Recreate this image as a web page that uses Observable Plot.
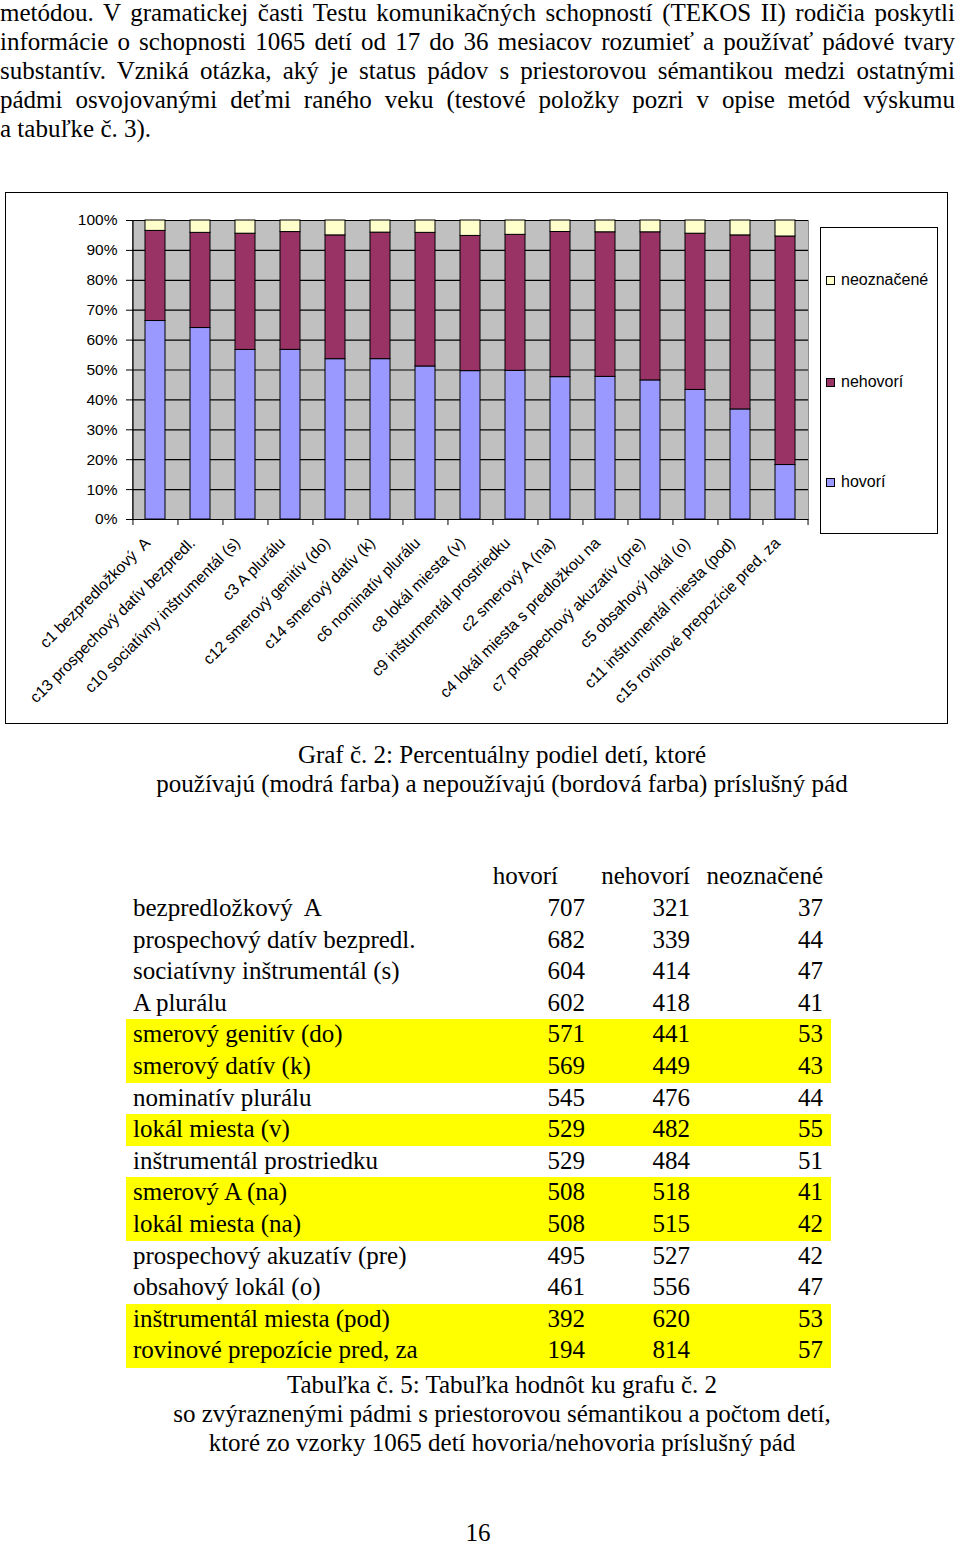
<!DOCTYPE html>
<html><head><meta charset="utf-8">
<script src="https://cdn.jsdelivr.net/npm/d3@7"></script>
<script src="https://cdn.jsdelivr.net/npm/@observablehq/plot@0.6"></script>
<style>
html,body{margin:0;padding:0;background:#fff}
body{width:960px;height:1543px;position:relative;overflow:hidden;font-family:"Liberation Serif","Times New Roman",serif;color:#000}
.abs{position:absolute}
.para{position:absolute;left:0;top:-2px;width:955px;font-size:25px;line-height:29px}
.para .ln{display:block;white-space:nowrap}
.para .ln span{display:inline-block;white-space:nowrap}
.cap{position:absolute;left:0;width:1004px;text-align:center;font-size:25px;line-height:29px}
.cap span{display:inline-block;white-space:nowrap}
.cell{position:absolute;font-size:25px;white-space:nowrap}
.cr{text-align:right}
#chartbox{position:absolute;left:5px;top:192px;width:941px;height:530px;border:1.5px solid #000}
#chart{position:absolute;left:0;top:192px}
.legend{position:absolute;left:820px;top:227px;width:116px;height:305px;border:1px solid #000;background:#fff}
.li{position:absolute;left:826px;height:20px;display:flex;align-items:center;font-family:"Liberation Sans",Arial,sans-serif;font-size:16px}
.sw{width:7px;height:7px;border:1px solid #000;margin-right:6px}
</style></head>
<body>
<div class="para" id="para"></div>
<div id="chartbox"></div>
<div id="chart"></div>
<div id="legend"></div>
<div class="cap" style="top:740px" id="cap1"></div>
<div id="table"></div>
<div class="cap" style="top:1370px" id="cap2"></div>
<div class="cap" style="top:1518px;left:-24px"><span>16</span></div>
<script>
// ---------- DATA ----------
const paragraphLines = [
  "metódou. V gramatickej časti Testu komunikačných schopností (TEKOS II) rodičia poskytli",
  "informácie o schopnosti 1065 detí od 17 do 36 mesiacov rozumieť a používať pádové tvary",
  "substantív. Vzniká otázka, aký je status pádov s priestorovou sémantikou medzi ostatnými",
  "pádmi osvojovanými deťmi raného veku (testové položky pozri v opise metód výskumu",
  "a tabuľke č. 3)."
];
const categories = [
  "c1 bezpredložkový  A",
  "c13 prospechový datív bezpredl.",
  "c10 sociatívny inštrumentál (s)",
  "c3 A plurálu",
  "c12 smerový genitív (do)",
  "c14 smerový datív (k)",
  "c6 nominatív plurálu",
  "c8 lokál miesta (v)",
  "c9 inšturmentál prostriedku",
  "c2 smerový A (na)",
  "c4 lokál miesta s predložkou na",
  "c7 prospechový akuzatív (pre)",
  "c5 obsahový lokál (o)",
  "c11 inštrumentál miesta (pod)",
  "c15 rovinové prepozície pred, za"
];
const tableLabels = [
  "bezpredložkový\u00a0 A",
  "prospechový datív bezpredl.",
  "sociatívny inštrumentál (s)",
  "A plurálu",
  "smerový genitív (do)",
  "smerový datív (k)",
  "nominatív plurálu",
  "lokál miesta (v)",
  "inštrumentál prostriedku",
  "smerový A (na)",
  "lokál miesta (na)",
  "prospechový akuzatív (pre)",
  "obsahový lokál (o)",
  "inštrumentál miesta (pod)",
  "rovinové prepozície pred, za"
];
const series = ["hovorí", "nehovorí", "neoznačené"];
const seriesColors = ["#9999ff", "#993366", "#ffffcc"];
const hovori     = [707, 682, 604, 602, 571, 569, 545, 529, 529, 508, 508, 495, 461, 392, 194];
const nehovori   = [321, 339, 414, 418, 441, 449, 476, 482, 484, 518, 515, 527, 556, 620, 814];
const neoznacene = [ 37,  44,  47,  41,  53,  43,  44,  55,  51,  41,  42,  42,  47,  53,  57];
const highlighted = [false,false,false,false,true,true,false,true,false,true,true,false,false,true,true];
const yTickValues = [0, 0.1, 0.2, 0.3, 0.4, 0.5, 0.6, 0.7, 0.8, 0.9, 1.0];
const chartCaption = ["Graf č. 2: Percentuálny podiel detí, ktoré",
  "používajú (modrá farba) a nepoužívajú (bordová farba) príslušný pád"];
const tableCaption = ["Tabuľka č. 5: Tabuľka hodnôt ku grafu č. 2",
  "so zvýraznenými pádmi s priestorovou sémantikou a počtom detí,",
  "ktoré zo vzorky 1065 detí hovoria/nehovoria príslušný pád"];

// ---------- PARAGRAPH ----------
const para = document.getElementById("para");
paragraphLines.forEach((t, i) => {
  const ln = document.createElement("div"); ln.className = "ln";
  const sp = document.createElement("span"); sp.textContent = t;
  ln.appendChild(sp); para.appendChild(ln);
  if (i < paragraphLines.length - 1) {
    const target = 955;
    const w = sp.getBoundingClientRect().width;
    const spaces = (t.match(/ /g) || []).length;
    sp.style.wordSpacing = ((target - w) / spaces) + "px";
  }
});

// ---------- CAPTIONS ----------
function caption(id, lines) {
  const el = document.getElementById(id);
  el.innerHTML = lines.map(l => `<span>${l}</span>`).join("<br>");
}
caption("cap1", chartCaption);
caption("cap2", tableCaption);

// ---------- CHART ----------
const W = 810, H = 532, mL = 132, mR = 2, mT = 28, mB = 205;
const step = (W - mL - mR) / categories.length;
const rows = categories.flatMap((c, i) => [
  {cat: c, series: series[0], value: hovori[i]},
  {cat: c, series: series[1], value: nehovori[i]},
  {cat: c, series: series[2], value: neoznacene[i]}
]);
const chart = Plot.plot({
  width: W, height: H,
  marginLeft: mL, marginRight: mR, marginTop: mT, marginBottom: mB,
  style: {fontFamily: "'Liberation Sans', Arial, sans-serif", fontSize: "15px", color: "#000", background: "transparent", overflow: "visible"},
  x: {domain: categories, paddingInner: 0.56, paddingOuter: 0.28, axis: null},
  y: {domain: [0, 1], axis: null},
  color: {domain: series, range: seriesColors},
  marks: [
    Plot.frame({fill: "#c0c0c0", stroke: "#8a8a8a"}),
    Plot.gridY(yTickValues, {stroke: "#000", strokeOpacity: 1, strokeWidth: 1.2}),
    Plot.barY(rows, Plot.stackY({x: "cat", y: "value", fill: "series", order: series, offset: "normalize", stroke: "#000", strokeWidth: 1})),
    Plot.ruleY([0], {stroke: "#000", strokeWidth: 1.2}),
    Plot.ruleX([categories[0]], {dx: -step / 2, y1: 0, y2: 1, stroke: "#000", strokeWidth: 1.2}),
    Plot.ruleX(categories, {dx: -step / 2, y1: 0, y2: 0, insetBottom: -6, stroke: "#000"}),
    Plot.ruleX([categories[categories.length - 1]], {dx: step / 2, y1: 0, y2: 0, insetBottom: -6, stroke: "#000"}),
    Plot.axisY({ticks: yTickValues, tickFormat: d => Math.round(d * 100) + "%", tickSize: 6, tickPadding: 9, label: null, fontSize: 15.5}),
    Plot.axisX({tickRotate: -45, tickSize: 0, tickPadding: 21, dx: -8, label: null, fontSize: 15.7})
  ]
});
document.getElementById("chart").appendChild(chart);

// ---------- LEGEND ----------
const legend = document.getElementById("legend");
let lh = `<div class="legend"></div>`;
const legendCenters = [280, 382, 482];
[2, 1, 0].forEach((si, k) => {
  lh += `<div class="li" style="top:${legendCenters[k] - 10}px"><div class="sw" style="background:${seriesColors[si]}"></div>${series[si]}</div>`;
});
legend.innerHTML = lh;

// ---------- TABLE ----------
const table = document.getElementById("table");
const rowTop0 = 892, rowH = 31.6;
const colRight = [585, 690, 823];
const headRight = [558, 690, 823];
let th = "";
series.forEach((s, j) => {
  th += `<div class="cell cr" style="top:${rowTop0 - rowH}px;line-height:${rowH}px;right:${960 - headRight[j]}px">${s}</div>`;
});
tableLabels.forEach((lab, i) => {
  const top = rowTop0 + i * rowH;
  if (highlighted[i]) th += `<div class="abs" style="left:126px;width:705px;top:${top + 1}px;height:${rowH + 0.6}px;background:#ffff00"></div>`;
  th += `<div class="cell" style="left:133px;top:${top}px;line-height:${rowH}px">${lab}</div>`;
  [hovori[i], nehovori[i], neoznacene[i]].forEach((v, j) => {
    th += `<div class="cell cr" style="top:${top}px;line-height:${rowH}px;right:${960 - colRight[j]}px">${v}</div>`;
  });
});
table.innerHTML = th;
</script>
</body></html>
